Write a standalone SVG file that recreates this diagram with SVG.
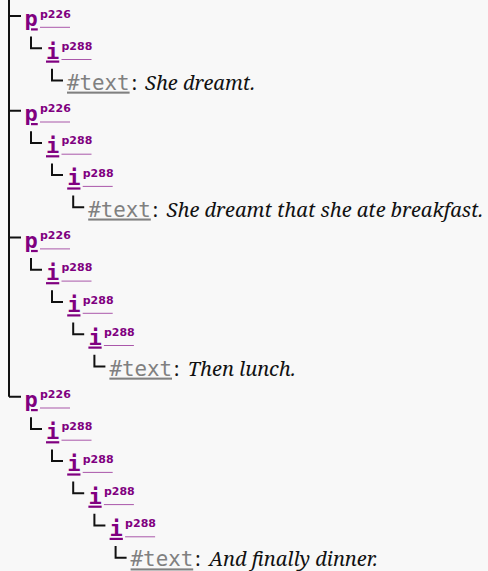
<svg xmlns="http://www.w3.org/2000/svg" width="488" height="571" viewBox="0 0 488 571">
<style>
.bg{fill:#f8f8f8}
.c{stroke:#111;stroke-width:2;fill:none}
.el{font-family:"DejaVu Sans Mono",monospace;font-weight:bold;font-size:22px;fill:#800080;text-decoration:underline}
.sup{font-family:"DejaVu Sans",sans-serif;font-weight:bold;font-size:11px;fill:#800080}
.ul{stroke:#800080;stroke-opacity:0.65;stroke-width:1}
.tn{font-family:"DejaVu Sans Mono",monospace;font-size:20.8px;fill:#808080;text-decoration:underline}
.colon{font-family:"Noto Serif",serif;font-size:20px;fill:#111}
.val{font-family:"Noto Serif",serif;font-style:italic;font-size:20px;fill:#111}
</style>
<defs>
<g id="elp"><text class="el" x="-0.5" y="10.3">p</text><text class="sup" x="15" y="1.5">p226</text><line class="ul" x1="15" y1="11.3" x2="45" y2="11.3"/></g>
<g id="eli"><text class="el" x="-0.5" y="10.3">i</text><text class="sup" x="15" y="1.5">p288</text><line class="ul" x1="15" y1="11.3" x2="45" y2="11.3"/></g>
</defs>
<rect class="bg" x="0" y="0" width="488" height="571"/>
<g id="connectors">
<path class="c" d="M9,0 V396.7 M9,16 H21 M9,110.7 H21 M9,237.6 H21 M9,396.7 H21"/>
<path class="c" d="M31,36.5 V48.2 H42 M52,68.7 V80.4 H63"/>
<path class="c" d="M31,131.2 V142.9 H42 M52,163.4 V175.1 H63 M73.2,195.6 V207.3 H84.2"/>
<path class="c" d="M31,258.1 V269.8 H42 M52,290.3 V302 H63 M73.2,322.5 V334.2 H84.2 M94.4,354.7 V366.4 H105.4"/>
<path class="c" d="M31,417.2 V428.9 H42 M52,449.4 V461.1 H63 M73.2,481.6 V493.3 H84.2 M94.4,513.8 V525.5 H105.4 M115.6,546 V557.7 H126.6"/>
</g>
<g id="p1"><use href="#elp" x="25" y="16"/></g>
<g id="i1"><use href="#eli" x="46.5" y="48.2"/></g>
<g id="t1"><text class="tn" x="67" y="89.6">#text</text><text class="colon" x="131.4" y="89.6">:</text><text class="val" x="145" y="89.6">She dreamt.</text></g>
<g id="p2"><use href="#elp" x="25" y="110.7"/></g>
<g id="i2"><use href="#eli" x="46.5" y="142.9"/></g>
<g id="i3"><use href="#eli" x="67.7" y="175.1"/></g>
<g id="t2"><text class="tn" x="88.2" y="216.5">#text</text><text class="colon" x="152.6" y="216.5">:</text><text class="val" x="166.6" y="216.5">She dreamt that she ate breakfast.</text></g>
<g id="p3"><use href="#elp" x="25" y="237.6"/></g>
<g id="i4"><use href="#eli" x="46.5" y="269.8"/></g>
<g id="i5"><use href="#eli" x="67.7" y="302"/></g>
<g id="i6"><use href="#eli" x="88.9" y="334.2"/></g>
<g id="t3"><text class="tn" x="109.4" y="375.6">#text</text><text class="colon" x="173.8" y="375.6">:</text><text class="val" x="187.8" y="375.6">Then lunch.</text></g>
<g id="p4"><use href="#elp" x="25" y="396.7"/></g>
<g id="i7"><use href="#eli" x="46.5" y="428.9"/></g>
<g id="i8"><use href="#eli" x="67.7" y="461.1"/></g>
<g id="i9"><use href="#eli" x="88.9" y="493.3"/></g>
<g id="i10"><use href="#eli" x="110.1" y="525.5"/></g>
<g id="t4"><text class="tn" x="130.6" y="566.4">#text</text><text class="colon" x="195" y="566.4">:</text><text class="val" x="209" y="566.4">And finally dinner.</text></g>
</svg>
